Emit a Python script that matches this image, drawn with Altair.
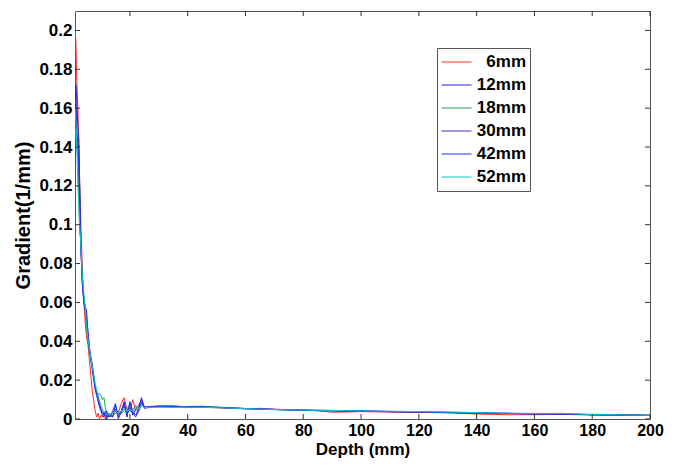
import altair as alt
import pandas as pd

depth = [1, 1.3, 1.6, 2, 2.3, 2.6, 3, 3.5, 4, 4.5, 5, 5.5, 6, 6.5, 7, 7.5, 8, 8.5, 9, 9.5,
         10, 10.5, 11, 11.5, 12, 12.5, 13, 14, 15, 16, 17, 18, 19, 20, 21, 22, 23, 24, 25, 27,
         30, 35, 40, 45, 50, 55, 60, 65, 70, 75, 80, 85, 90, 95, 100, 110, 120, 130, 140, 150,
         160, 170, 175, 180, 190, 200]

g6 = [0.200, 0.195, 0.175, 0.160, 0.142, 0.125, 0.100, 0.080, 0.062, 0.050,
      0.042, 0.038, 0.030, 0.022, 0.014, 0.009, 0.004, 0.001, 0.003, 0.000,
      0.002, 0.001, 0.003, 0.000, 0.002, 0.001, 0.003, 0.001, 0.004, 0.003,
      0.008, 0.011, 0.005, 0.004, 0.010, 0.004, 0.006, 0.008, 0.006, 0.0065,
      0.0068, 0.0068, 0.0062, 0.0060, 0.0058, 0.0055, 0.0052, 0.0055, 0.0050, 0.0048,
      0.0045, 0.0042, 0.0035, 0.0036, 0.0038, 0.0036, 0.0034, 0.0032, 0.0026, 0.0022,
      0.0022, 0.0024, 0.0022, 0.0024, 0.0022, 0.0020]

g12 = [0.160, 0.172, 0.165, 0.150, 0.145, 0.122, 0.093, 0.072, 0.062, 0.058,
       0.056, 0.044, 0.036, 0.032, 0.028, 0.022, 0.017, 0.014, 0.012, 0.008,
       0.005, 0.003, 0.002, 0.004, 0.001, 0.003, 0.002, 0.001, 0.007, 0.002,
       0.004, 0.008, 0.001, 0.008, 0.004, 0.002, 0.005, 0.011, 0.006, 0.0062,
       0.0066, 0.0064, 0.0063, 0.0062, 0.0060, 0.0056, 0.0054, 0.0052, 0.0050, 0.0048,
       0.0046, 0.0043, 0.0042, 0.0040, 0.0041, 0.0038, 0.0036, 0.0033, 0.0031, 0.0029,
       0.0026, 0.0025, 0.0023, 0.0022, 0.0020, 0.0018]

g18 = [0.150, 0.145, 0.140, 0.135, 0.115, 0.097, 0.092, 0.075, 0.064, 0.055,
       0.046, 0.040, 0.034, 0.030, 0.026, 0.021, 0.016, 0.014, 0.013, 0.013,
       0.012, 0.010, 0.011, 0.006, 0.003, 0.001, 0.002, 0.002, 0.003, 0.004,
       0.003, 0.004, 0.006, 0.004, 0.005, 0.007, 0.004, 0.007, 0.006, 0.0060,
       0.0062, 0.0060, 0.0065, 0.0066, 0.0062, 0.0058, 0.0054, 0.0050, 0.0048, 0.0046,
       0.0045, 0.0044, 0.0043, 0.0042, 0.0040, 0.0039, 0.0037, 0.0035, 0.0032, 0.0030,
       0.0027, 0.0025, 0.0024, 0.0022, 0.0021, 0.0019]

g30 = [0.158, 0.168, 0.150, 0.140, 0.138, 0.118, 0.090, 0.070, 0.060, 0.056,
       0.052, 0.045, 0.037, 0.031, 0.027, 0.021, 0.016, 0.013, 0.010, 0.007,
       0.005, 0.004, 0.003, 0.002, 0.004, 0.002, 0.001, 0.003, 0.005, 0.001,
       0.003, 0.007, 0.003, 0.006, 0.002, 0.005, 0.007, 0.010, 0.006, 0.0064,
       0.0064, 0.0066, 0.0062, 0.0060, 0.0059, 0.0056, 0.0053, 0.0051, 0.0049, 0.0047,
       0.0045, 0.0044, 0.0042, 0.0041, 0.0040, 0.0037, 0.0035, 0.0033, 0.0030, 0.0028,
       0.0026, 0.0024, 0.0023, 0.0021, 0.0020, 0.0018]

g42 = [0.155, 0.160, 0.145, 0.142, 0.130, 0.112, 0.088, 0.071, 0.063, 0.057,
       0.050, 0.042, 0.035, 0.030, 0.025, 0.020, 0.015, 0.012, 0.009, 0.006,
       0.004, 0.002, 0.001, 0.003, 0.000, 0.002, 0.001, 0.004, 0.008, 0.000,
       0.004, 0.009, 0.002, 0.009, 0.003, 0.001, 0.004, 0.009, 0.0055, 0.0060,
       0.0065, 0.0063, 0.0061, 0.0063, 0.0060, 0.0057, 0.0054, 0.0051, 0.0049, 0.0047,
       0.0046, 0.0045, 0.0044, 0.0042, 0.0042, 0.0039, 0.0036, 0.0034, 0.0031, 0.0029,
       0.0027, 0.0026, 0.0025, 0.0022, 0.0020, 0.0019]

g52 = [0.160, 0.155, 0.140, 0.120, 0.110, 0.100, 0.090, 0.074, 0.066, 0.058,
       0.048, 0.041, 0.036, 0.031, 0.027, 0.023, 0.018, 0.015, 0.012, 0.009,
       0.007, 0.005, 0.004, 0.003, 0.002, 0.003, 0.002, 0.003, 0.004, 0.003,
       0.004, 0.005, 0.004, 0.005, 0.004, 0.006, 0.005, 0.007, 0.006, 0.0060,
       0.0061, 0.0060, 0.0061, 0.0060, 0.0058, 0.0056, 0.0053, 0.0051, 0.0049, 0.0047,
       0.0046, 0.0045, 0.0044, 0.0043, 0.0041, 0.0040, 0.0038, 0.0036, 0.0033, 0.0030,
       0.0029, 0.0029, 0.0026, 0.0023, 0.0021, 0.0019]

series_names = ["6mm", "12mm", "18mm", "30mm", "42mm", "52mm"]
series_values = [g6, g12, g18, g30, g42, g52]
series_colors = ["#ff2a2a", "#2424d0", "#20a050", "#5424c8", "#1c34f0", "#14c8c8"]

x_ticks = [20, 40, 60, 80, 100, 120, 140, 160, 180, 200]
y_ticks = [0, 0.02, 0.04, 0.06, 0.08, 0.1, 0.12, 0.14, 0.16, 0.18, 0.2]

rows = []
for si, (name, vals) in enumerate(zip(series_names, series_values)):
    for i, (d, v) in enumerate(zip(depth, vals)):
        rows.append({"Depth": d, "Gradient": v, "Series": name, "order": si * 1000 + i})
df = pd.DataFrame(rows)

W, H = 575, 408
FONT = "Liberation Sans"
xscale = alt.Scale(domain=[1, 200], nice=False, zero=False)
yscale = alt.Scale(domain=[0, 0.21], nice=False, zero=False)

lines = alt.Chart(df).mark_line(strokeWidth=1, clip=True).encode(
    x=alt.X("Depth:Q", scale=xscale,
            axis=alt.Axis(title="Depth (mm)", values=x_ticks, format="d", grid=False,
                          ticks=False, tickSize=0, domain=False, labelPadding=3,
                          labelFlush=False, titlePadding=3, labelFontSize=16, titleFontSize=17)),
    y=alt.Y("Gradient:Q", scale=yscale,
            axis=alt.Axis(title="Gradient(1/mm)", values=y_ticks, format=".2~f", grid=False,
                          ticks=False, tickSize=0, domain=False, labelPadding=3,
                          labelFlush=False,
                          labelFontSize=17, titleFontSize=20, titleX=-42, titleY=H / 2)),
    color=alt.Color("Series:N", sort=series_names,
                    scale=alt.Scale(domain=series_names, range=series_colors),
                    legend=alt.Legend(title=None, orient="none", legendX=362, legendY=37,
                                      symbolType="stroke", symbolSize=900, symbolStrokeWidth=1,
                                      clipHeight=20, rowPadding=3, padding=4,
                                      labelFontSize=17, labelFontWeight="bold", labelFont=FONT,
                                      labelAlign="right", labelOffset=54,
                                      strokeColor="#555555", fillColor="white")),
    detail="Series:N",
    order="order:Q",
)

xt = pd.DataFrame({"t": x_ticks})
yt = pd.DataFrame({"t": y_ticks})
tick_color = "#333333"
xb = alt.Chart(xt).mark_rule(color=tick_color, strokeWidth=1).encode(
    x=alt.X("t:Q", scale=xscale), y=alt.value(H), y2=alt.value(H - 5))
xtop = alt.Chart(xt).mark_rule(color=tick_color, strokeWidth=1).encode(
    x=alt.X("t:Q", scale=xscale), y=alt.value(0), y2=alt.value(5))
yl = alt.Chart(yt).mark_rule(color=tick_color, strokeWidth=1).encode(
    y=alt.Y("t:Q", scale=yscale), x=alt.value(0), x2=alt.value(5))
yr = alt.Chart(yt).mark_rule(color=tick_color, strokeWidth=1).encode(
    y=alt.Y("t:Q", scale=yscale), x=alt.value(W), x2=alt.value(W - 5))

chart = alt.layer(lines, xb, xtop, yl, yr).properties(
    width=W, height=H,
    autosize=alt.AutoSizeParams(type="none"),
    padding={"left": 67, "top": 3, "right": 22, "bottom": 41},
    background="white",
).configure_view(
    stroke="#555555", strokeWidth=1
).configure_axis(
    labelFont=FONT, titleFont=FONT, labelFontWeight="bold", titleFontWeight="bold",
    labelColor="black", titleColor="black"
)

chart.save("out.html", embed_options={"renderer": "svg", "actions": False})
